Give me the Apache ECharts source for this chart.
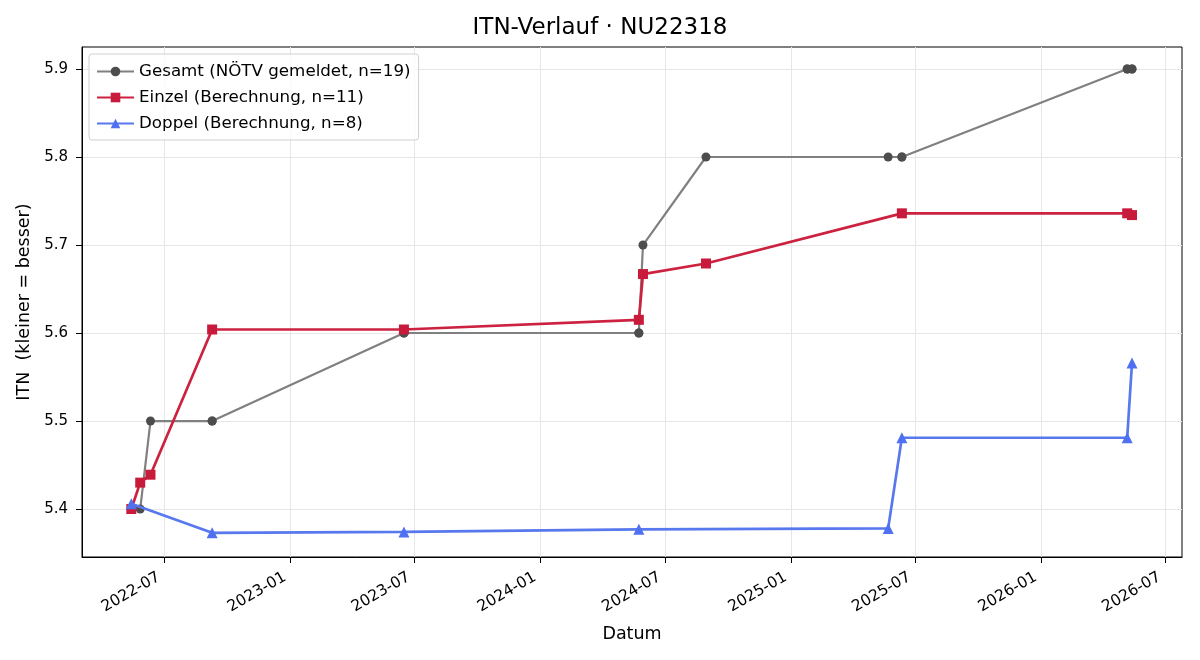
<!DOCTYPE html>
<html>
<head>
<meta charset="utf-8">
<script src="https://cdn.jsdelivr.net/npm/echarts@6/dist/echarts.min.js"></script>
<style>
  html, body { margin: 0; padding: 0; background: #fff; }
  #chart { width: 1200px; height: 660px; }
</style>
</head>
<body>
<div id="chart"></div>
<script>
// Gesamt: one point per match date (19), Einzel 11, Doppel 8
const gesamtDates = ["2022-05-14", "2022-05-14", "2022-05-27", "2022-06-11", "2022-09-09", "2022-09-09",
  "2023-06-16", "2023-06-16", "2024-05-24", "2024-05-24", "2024-05-30", "2024-08-30",
  "2025-05-23", "2025-06-12", "2025-06-12", "2026-05-07", "2026-05-07", "2026-05-14", "2026-05-14"];
const gesamtValues = [5.4, 5.4, 5.4, 5.5, 5.5, 5.5, 5.6, 5.6, 5.6, 5.6, 5.7, 5.8, 5.8, 5.8, 5.8, 5.9, 5.9, 5.9, 5.9];

const einzelDates = ["2022-05-14", "2022-05-27", "2022-06-11", "2022-09-09", "2023-06-16", "2024-05-24",
  "2024-05-30", "2024-08-30", "2025-06-12", "2026-05-07", "2026-05-14"];
const einzelValues = [5.400, 5.430, 5.439, 5.604, 5.604, 5.615, 5.667, 5.679, 5.736, 5.736, 5.734];

const doppelDates = ["2022-05-14", "2022-09-09", "2023-06-16", "2024-05-24", "2025-05-23", "2025-06-12",
  "2026-05-07", "2026-05-14"];
const doppelValues = [5.406, 5.373, 5.374, 5.377, 5.378, 5.481, 5.481, 5.566];

const xTickLabels = ["2022-07", "2023-01", "2023-07", "2024-01", "2024-07", "2025-01", "2025-07", "2026-01", "2026-07"];
const yTickLabels = [5.4, 5.5, 5.6, 5.7, 5.8, 5.9];

const X_MIN = "2022-03-03";
const X_MAX = "2026-07-26";
const Y_MIN = 5.3455;
const Y_MAX = 5.925;

const FONT = "DejaVu Sans";
const ts = d => new Date(d).getTime();
const xTicks = xTickLabels.map(l => ts(l + "-01"));

function pairs(dates, values) {
  return dates.map((d, i) => [ts(d), values[i]]);
}

function fmtMonth(v) {
  const d = new Date(v);
  return d.getUTCFullYear() + "-" + String(d.getUTCMonth() + 1).padStart(2, "0");
}

const chart = echarts.init(document.getElementById("chart"));
chart.setOption({
  animation: false,
  textStyle: { fontFamily: FONT },
  title: {
    text: "ITN-Verlauf · NU22318",
    left: "center", top: 12,
    textStyle: { fontFamily: FONT, fontSize: 23, fontWeight: "normal", color: "#000" },
  },
  legend: {
    orient: "vertical",
    left: 89, top: 54,
    padding: [9, 8, 8, 7],
    itemGap: 9,
    itemWidth: 37, itemHeight: 12,
    backgroundColor: "rgba(255,255,255,0.8)",
    borderColor: "#d0d0d0", borderWidth: 1, borderRadius: 3,
    textStyle: { fontFamily: FONT, fontSize: 16.7, color: "#000" },
  },
  grid: {
    left: 82, right: 18, top: 47, bottom: 103,
    show: true, borderColor: "#000", borderWidth: 1,
  },
  // value axis on timestamps: time axis + customValues fails in v6
  xAxis: {
    type: "value",
    min: ts(X_MIN), max: ts(X_MAX),
    name: "Datum", nameLocation: "middle", nameGap: 68,
    nameTextStyle: { fontFamily: FONT, fontSize: 17.5, color: "#000" },
    axisLine: { show: true, lineStyle: { color: "#000" } },
    axisTick: { show: true, customValues: xTicks, length: 6, lineStyle: { color: "#000" } },
    axisLabel: {
      customValues: xTicks, rotate: 30, fontSize: 15.5, color: "#000", margin: 16,
      padding: [0, 6, 0, 0],
      formatter: v => fmtMonth(v),
    },
    splitLine: { show: true, lineStyle: { color: "#e6e6e6" } },
  },
  yAxis: {
    type: "value",
    min: Y_MIN, max: Y_MAX,
    name: "ITN  (kleiner = besser)", nameLocation: "middle", nameGap: 47,
    nameTextStyle: { fontFamily: FONT, fontSize: 17.5, color: "#000" },
    axisLine: { show: true, lineStyle: { color: "#000" } },
    axisTick: { show: true, customValues: yTickLabels, length: 6, lineStyle: { color: "#000" } },
    axisLabel: { customValues: yTickLabels, fontSize: 15, color: "#000", margin: 14, formatter: v => v.toFixed(1) },
    splitLine: { show: true, lineStyle: { color: "#e6e6e6" } },
  },
  series: [
    {
      name: "Gesamt (NÖTV gemeldet, n=19)",
      type: "line",
      symbol: "circle", symbolSize: 9,
      lineStyle: { color: "#808080", width: 2.2 },
      itemStyle: { color: "#4d4d4d", borderWidth: 0 },
      data: pairs(gesamtDates, gesamtValues),
      z: 2,
    },
    {
      name: "Einzel (Berechnung, n=11)",
      type: "line",
      symbol: "rect", symbolSize: 10,
      lineStyle: { color: "#cc2240", width: 2.7 },
      itemStyle: { color: "#c81a3a", borderWidth: 0 },
      data: pairs(einzelDates, einzelValues),
      z: 3,
    },
    {
      name: "Doppel (Berechnung, n=8)",
      type: "line",
      symbol: "triangle", symbolSize: 11,
      lineStyle: { color: "#5878ee", width: 2.7 },
      itemStyle: { color: "#4f70f0", borderWidth: 0 },
      data: pairs(doppelDates, doppelValues),
      z: 4,
    },
  ],
});
</script>
</body>
</html>
